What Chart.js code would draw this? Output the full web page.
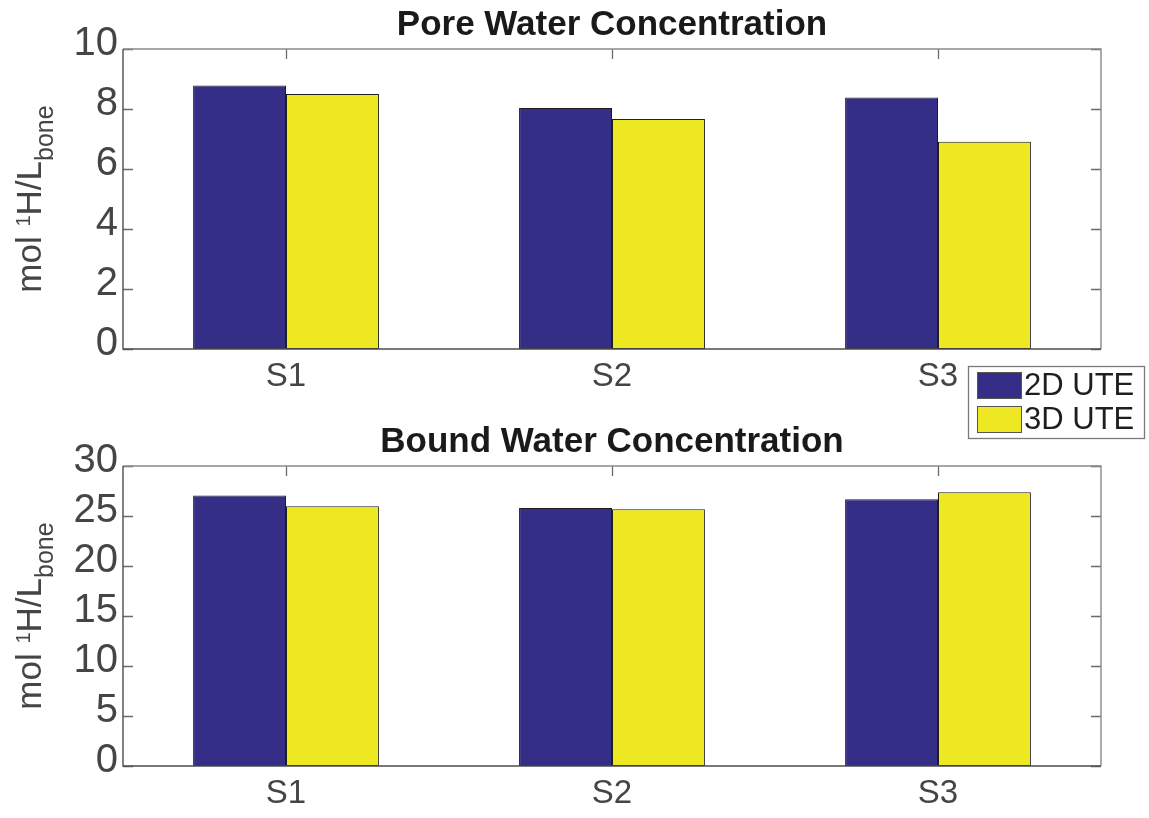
<!DOCTYPE html>
<html>
<head>
<meta charset="utf-8">
<script src="https://cdn.jsdelivr.net/npm/chart.js@4.4.1/dist/chart.umd.min.js"></script>
<style>
  body { margin: 0; background: #fff; }
  #wrap { position: relative; width: 1149px; height: 818px; }
  canvas { position: absolute; left: 0; }
  #pore { top: 0; }
  #bound { top: 417px; }
</style>
</head>
<body>
<div id="wrap">
  <canvas id="pore" width="1149" height="445"></canvas>
  <canvas id="bound" width="1149" height="401"></canvas>
</div>
<script>
const samples = ['S1', 'S2', 'S3'];
const seriesNames = ['2D UTE', '3D UTE'];
const pore2D = [8.78, 8.03, 8.38];
const pore3D = [8.50, 7.67, 6.91];
const bound2D = [27.04, 25.80, 26.67];
const bound3D = [25.97, 25.67, 27.37];
const poreTicks = [0, 10, 2];   // min, max, step
const boundTicks = [0, 30, 5];

const FONT = '"Liberation Sans", Arial, Helvetica, sans-serif';
const BLUE = '#352e86';
const YELLOW = '#eee822';
const INK = '#454545';

// matlab-style box with inward ticks on all four sides
const frame = {
  id: 'frame',
  beforeDatasetsDraw(chart) {
    const { ctx, chartArea: a, scales: { x, y } } = chart;
    ctx.save();
    ctx.strokeStyle = '#6a6a6a';
    ctx.lineWidth = 1.3;
    ctx.beginPath();
    y.ticks.forEach((t, i) => {
      const py = Math.round(y.getPixelForTick(i)) + 0.5;
      ctx.moveTo(a.left, py); ctx.lineTo(a.left + 10, py);
      ctx.moveTo(a.right, py); ctx.lineTo(a.right - 10, py);
    });
    x.ticks.forEach((t, i) => {
      const px = Math.round(x.getPixelForTick(i)) + 0.5;
      ctx.moveTo(px, a.top); ctx.lineTo(px, a.top + 10);
      ctx.moveTo(px, a.bottom); ctx.lineTo(px, a.bottom - 10);
    });
    ctx.stroke();
    ctx.restore();
  },
  afterDatasetsDraw(chart) {
    const { ctx, chartArea: a } = chart;
    ctx.save();
    ctx.lineWidth = 1.4;
    ctx.strokeStyle = '#8a8a8a';
    ctx.beginPath();
    ctx.moveTo(a.left, a.top); ctx.lineTo(a.right, a.top); ctx.lineTo(a.right, a.bottom);
    ctx.stroke();
    ctx.strokeStyle = '#4d4d4d';
    ctx.beginPath();
    ctx.moveTo(a.left, a.top); ctx.lineTo(a.left, a.bottom); ctx.lineTo(a.right, a.bottom);
    ctx.stroke();
    ctx.restore();
  }
};

// y label "mol 1H/L_bone" with super/subscript pieces
const unitLabel = {
  id: 'unitLabel',
  afterDraw(chart) {
    const { ctx, chartArea: a } = chart;
    const big = '35px ' + FONT, sup = '20px ' + FONT, sub = '25px ' + FONT;
    const parts = [
      ['mol ', big, 0], ['1', sup, -11], ['H/L', big, 0], ['bone', sub, 12]
    ];
    ctx.save();
    let total = 0;
    parts.forEach(p => { ctx.font = p[1]; total += ctx.measureText(p[0]).width; });
    ctx.translate(41, (a.top + a.bottom) / 2);
    ctx.rotate(-Math.PI / 2);
    ctx.fillStyle = INK;
    ctx.textBaseline = 'alphabetic';
    let cx = -total / 2;
    parts.forEach(p => {
      ctx.font = p[1];
      ctx.fillText(p[0], cx, p[2]);
      cx += ctx.measureText(p[0]).width;
    });
    ctx.restore();
  }
};

// boxed legend sitting under the right end of the upper axes
const boxLegend = {
  id: 'boxLegend',
  afterDraw(chart) {
    const { ctx, chartArea: a } = chart;
    const left = a.right - 133, top = a.bottom + 17, w = 176, h = 72;
    ctx.save();
    ctx.fillStyle = '#fff';
    ctx.fillRect(left, top, w, h);
    ctx.strokeStyle = '#7a7a7a';
    ctx.lineWidth = 1.3;
    ctx.strokeRect(left + 0.5, top + 0.5, w, h);
    ctx.font = '31px ' + FONT;
    ctx.textBaseline = 'middle';
    chart.data.datasets.forEach((ds, i) => {
      const sy = top + 6 + i * 34;
      ctx.fillStyle = ds.backgroundColor;
      ctx.fillRect(left + 9, sy, 44, 26);
      ctx.strokeStyle = '#555';
      ctx.lineWidth = 1;
      ctx.strokeRect(left + 9.5, sy + 0.5, 44, 26);
      ctx.fillStyle = '#1e1e1e';
      ctx.fillText(ds.label, left + 56, sy + 14);
    });
    ctx.restore();
  }
};

function makeChart(id, title, a, b, range, xHeight, plugins) {
  return new Chart(document.getElementById(id), {
    type: 'bar',
    data: {
      labels: samples,
      datasets: [
        { label: seriesNames[0], data: a, backgroundColor: BLUE },
        { label: seriesNames[1], data: b, backgroundColor: YELLOW }
      ]
    },
    options: {
      responsive: false,
      animation: false,
      devicePixelRatio: 1,
      layout: { padding: { left: 0, right: 48, top: 0, bottom: 0 } },
      datasets: {
        bar: {
          categoryPercentage: 0.57,
          barPercentage: 1,
          borderWidth: 1,
          borderColor: '#1e1e1e',
          borderSkipped: false
        }
      },
      plugins: {
        legend: { display: false },
        tooltip: { enabled: false },
        title: {
          display: true,
          text: title,
          fullSize: false,
          color: '#1a1a1a',
          font: { family: FONT, size: 35, weight: 'bold', lineHeight: 1.2 },
          padding: { top: 4, bottom: 3 }
        }
      },
      scales: {
        x: {
          grid: { display: false, drawTicks: false },
          border: { display: false },
          ticks: { color: INK, padding: 8, font: { family: FONT, size: 33 } },
          afterFit(s) { s.height = xHeight; }
        },
        y: {
          min: range[0],
          max: range[1],
          grid: { display: false, drawTicks: false },
          border: { display: false },
          ticks: {
            stepSize: range[2],
            autoSkip: false,
            color: INK,
            padding: 5,
            labelOffset: -5,
            font: { family: FONT, size: 40 }
          },
          afterFit(s) { s.width = 123; }
        }
      }
    },
    plugins: plugins
  });
}

makeChart('pore', 'Pore Water Concentration', pore2D, pore3D, poreTicks, 96,
  [frame, unitLabel, boxLegend]);
makeChart('bound', 'Bound Water Concentration', bound2D, bound3D, boundTicks, 52,
  [frame, unitLabel]);
</script>
</body>
</html>
